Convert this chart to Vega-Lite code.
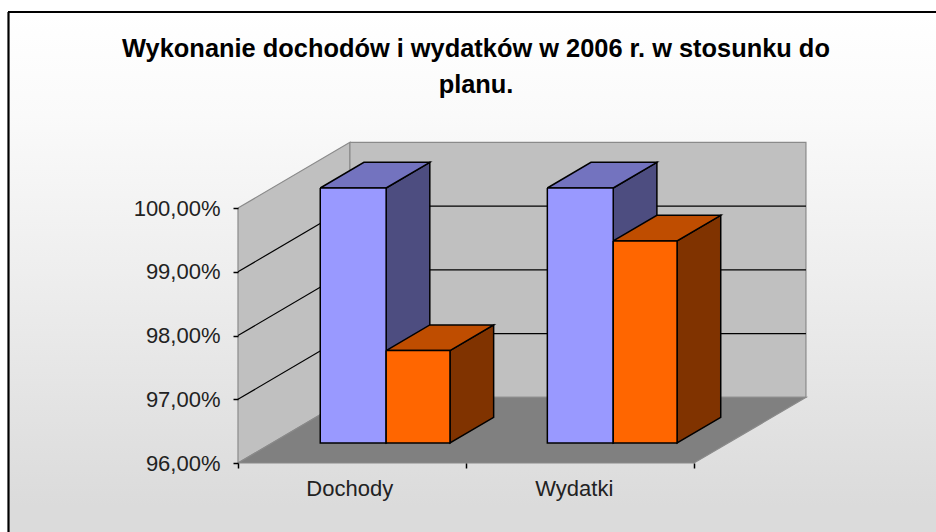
{
"$schema":"https://vega.github.io/schema/vega-lite/v6.json",
"width":928,"height":520,
"autosize":{"type":"none"},
"padding":{"left":8,"top":12,"right":0,"bottom":0},
"background":"#ffffff",
"view":{"stroke":null,"fill":{"gradient":"linear","x1":0,"y1":0,"x2":0,"y2":1,"stops":[{"offset":0,"color":"#ffffff"},{"offset":0.2,"color":"#fafafa"},{"offset":0.5,"color":"#eeeeee"},{"offset":0.95,"color":"#dbdbdb"},{"offset":1,"color":"#dbdbdb"}]}},
"title":{"text":["Wykonanie dochodów i wydatków w 2006 r. w stosunku do","planu."],"anchor":"middle","dx":4,"dy":91,"font":"Liberation Sans","fontSize":25.4,"fontWeight":"bold","color":"#000000","lineHeight":36},
"config":{"font":"Liberation Sans"},
"datasets":{
"bars":[
{"category":"Dochody","series":"plan","value":100},
{"category":"Dochody","series":"wykonanie","value":97.45},
{"category":"Wydatki","series":"plan","value":100},
{"category":"Wydatki","series":"wykonanie","value":99.17}],
"planes":[{"plane":"left wall"},{"plane":"back wall"},{"plane":"floor"}],
"grid":[{"tick":97},{"tick":98},{"tick":99}],
"frame":[{"edge":"frame"}]
},
"encoding":{
"x":{"field":"sx","type":"quantitative","scale":{"domain":[-1.00877,3.0614],"nice":false,"zero":false},"axis":{"values":[0,1,2],"labels":false,"title":null,"grid":false,"domain":false,"offset":-69,"tickSize":5,"tickColor":"#000000","tickWidth":1.5,"zindex":1}},
"y":{"field":"sv","type":"quantitative","scale":{"domain":[94.918,103.0745],"nice":false,"zero":false},"axis":{"values":[96,97,98,99,100],"title":null,"grid":false,"domain":false,"offset":-230,"tickSize":5,"tickColor":"#000000","tickWidth":1.5,"labelFont":"Liberation Sans","labelFontSize":22,"labelColor":"#222222","labelPadding":13,"labelExpr":"replace(format(datum.value,'.2f'),'.',',')+'%'","zindex":1}},
"fill":{"field":"shade","type":"nominal","scale":{"domain":["left wall","back wall","floor","plan 0","plan 1","plan 2","wykonanie 0","wykonanie 1","wykonanie 2"],"range":["#c0c0c0","#c0c0c0","#808080","#4d4d80","#7373bf","#9999ff","#803300","#bf4d00","#ff6600"]},"legend":null}
},
"layer":[
{"data":{"name":"frame"},
"transform":[{"calculate":"-1.00657","as":"sx"},{"calculate":"3.0614","as":"sx2"},{"calculate":"103.0745","as":"sv"},{"calculate":"94.918","as":"sv2"}],
"mark":{"type":"rule","stroke":"#000000","strokeWidth":2.2},
"encoding":{"y2":{"field":"sv2"},"fill":{"value":null}}},
{"data":{"name":"frame"},
"transform":[{"calculate":"-1.00877","as":"sx"},{"calculate":"3.0614","as":"sx2"},{"calculate":"103.0745","as":"sv"}],
"mark":{"type":"rule","stroke":"#000000","strokeWidth":2.2},
"encoding":{"x2":{"field":"sx2"},"fill":{"value":null}}},
{"data":{"name":"planes"},
"transform":[
{"calculate":"indexof(['left wall','back wall','floor'],datum.plane)","as":"p"},
{"calculate":"[0,1,2,3,4]","as":"k"},{"flatten":["k"]},
{"calculate":"[[0,0,0,0,0],[0,2,2,0,0],[0,2,2,0,0]][datum.p][datum.k]","as":"gx"},
{"calculate":"[[0,1,1,0,0],[1,1,1,1,1],[0,0,1,1,0]][datum.p][datum.k]","as":"gd"},
{"calculate":"[[100,100,96,96,100],[100,100,96,96,100],[96,96,96,96,96]][datum.p][datum.k]","as":"gv"},
{"calculate":"datum.gx+datum.gd*0.491","as":"sx"},
{"calculate":"datum.gv+datum.gd*1.03","as":"sv"},
{"calculate":"datum.plane","as":"shade"}],
"mark":{"type":"line","stroke":"#8a8a8a","strokeWidth":1.2,"strokeJoin":"miter"},
"encoding":{"detail":{"field":"plane"},"order":{"field":"k","type":"quantitative"}}},
{"data":{"name":"grid"},
"transform":[{"calculate":"0","as":"sx"},{"calculate":"0.491","as":"sx2"},{"calculate":"datum.tick","as":"sv"},{"calculate":"datum.tick+1.03","as":"sv2"}],
"mark":{"type":"rule","stroke":"#000000","strokeWidth":1.2},
"encoding":{"x2":{"field":"sx2"},"y2":{"field":"sv2"},"fill":{"value":null}}},
{"data":{"name":"grid"},
"transform":[{"calculate":"0.491","as":"sx"},{"calculate":"2.491","as":"sx2"},{"calculate":"datum.tick+1.03","as":"sv"}],
"mark":{"type":"rule","stroke":"#000000","strokeWidth":1.2},
"encoding":{"x2":{"field":"sx2"},"fill":{"value":null}}},
{"data":{"values":[{}]},"mark":{"type":"rule","stroke":"#000000","strokeWidth":1.5},"encoding":{"x":{"datum":0},"y":{"datum":96},"y2":{"datum":100},"fill":{"value":null}}},
{"data":{"values":[{}]},"mark":{"type":"rule","stroke":"#222222","strokeWidth":1.6},"encoding":{"x":{"datum":0},"x2":{"datum":2},"y":{"datum":96},"fill":{"value":null}}},
{"data":{"values":[{}]},"mark":{"type":"rule","stroke":"#000000","strokeWidth":1.2},"encoding":{"x":{"datum":2},"x2":{"datum":2.491},"y":{"datum":96},"y2":{"datum":97.03},"fill":{"value":null}}},
{"data":{"name":"bars"},
"transform":[
{"calculate":"indexof(['Dochody','Wydatki'],datum.category)*0.996+0.5","as":"center"},
{"calculate":"datum.series==='plan'?datum.center-0.289:datum.center","as":"x0"},
{"calculate":"datum.series==='plan'?datum.center:datum.center+0.28","as":"x1"},
{"calculate":"[0,1,2]","as":"face"},{"flatten":["face"]},
{"calculate":"[0,1,2,3,4]","as":"k"},{"flatten":["k"]},
{"calculate":"[[1,1,1,1,1],[0,1,1,0,0],[0,1,1,0,0]][datum.face][datum.k]","as":"ux"},
{"calculate":"[[0,1,1,0,0],[0,0,1,1,0],[0,0,0,0,0]][datum.face][datum.k]","as":"ud"},
{"calculate":"[[1,1,0,0,1],[1,1,1,1,1],[1,1,0,0,1]][datum.face][datum.k]","as":"uv"},
{"calculate":"0.305+0.39*datum.ud","as":"d"},
{"calculate":"(datum.ux?datum.x1:datum.x0)+datum.d*0.491","as":"sx"},
{"calculate":"(datum.uv?datum.value:96)+datum.d*1.03","as":"sv"},
{"calculate":"datum.category+' '+datum.series+' '+datum.face","as":"piece"},
{"calculate":"datum.series+' '+datum.face","as":"shade"}],
"mark":{"type":"line","stroke":"#000000","strokeWidth":1.5,"strokeJoin":"miter"},
"encoding":{"detail":{"field":"piece"},"order":{"field":"k","type":"quantitative"}}},
{"data":{"name":"bars"},
"transform":[{"filter":"datum.series==='plan'"},
{"calculate":"indexof(['Dochody','Wydatki'],datum.category)*0.985+0.49","as":"sx"},
{"calculate":"95.59","as":"sv"}],
"mark":{"type":"text","font":"Liberation Sans","fontSize":22,"color":"#222222","align":"center","baseline":"middle"},
"encoding":{"text":{"field":"category"},"fill":{"value":"#222222"}}}
]
}
